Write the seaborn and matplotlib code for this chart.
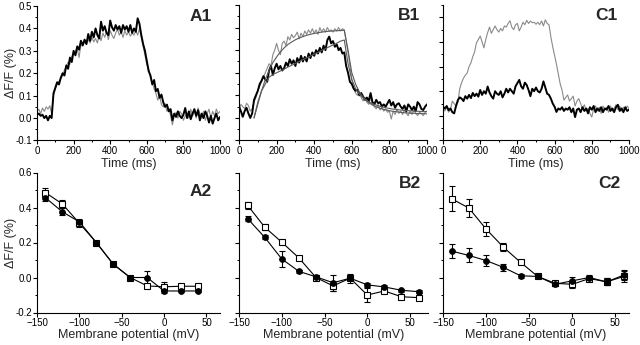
import numpy as np
import pandas as pd
import matplotlib
matplotlib.use("Agg")
import matplotlib.pyplot as plt
from matplotlib.ticker import MultipleLocator, FormatStrFormatter
import seaborn as sns

sns.set_style("ticks")
plt.rcParams["font.family"] = ["Liberation Sans", "DejaVu Sans"]

# ---------------- fluorescence traces (time in ms, dF/F in %) ----------------
time_ms = list(range(0, 1001, 10))

a1_black = [0.015, 0.020, 0.010, 0.015, 0.000, 0.010, -0.010, 0.010, 0.000, 0.110,
            0.135, 0.160, 0.150, 0.180, 0.200, 0.190, 0.235, 0.220, 0.270, 0.250,
            0.300, 0.280, 0.320, 0.305, 0.345, 0.325, 0.350, 0.330, 0.375, 0.345,
            0.385, 0.360, 0.400, 0.370, 0.355, 0.430, 0.390, 0.410, 0.380, 0.370,
            0.435, 0.405, 0.390, 0.415, 0.395, 0.410, 0.380, 0.415, 0.395, 0.410,
            0.385, 0.415, 0.380, 0.400, 0.385, 0.445, 0.420, 0.370, 0.330, 0.300,
            0.255, 0.210, 0.190, 0.150, 0.170, 0.120, 0.130, 0.090, 0.105, 0.070,
            0.050, 0.060, 0.030, 0.040, -0.010, 0.020, 0.005, 0.030, 0.010, 0.000,
            0.015, 0.045, 0.000, 0.030, -0.005, 0.020, 0.040, 0.010, 0.035, -0.010,
            0.020, 0.000, 0.030, 0.010, -0.020, 0.010, -0.025, 0.000, 0.020, -0.010,
            0.005]
a1_grey = [0.030, 0.040, 0.020, 0.045, 0.030, 0.050, 0.040, 0.055, 0.020, 0.100,
           0.130, 0.150, 0.165, 0.175, 0.190, 0.215, 0.230, 0.250, 0.240, 0.275,
           0.290, 0.300, 0.310, 0.270, 0.330, 0.320, 0.345, 0.330, 0.350, 0.335,
           0.360, 0.340, 0.355, 0.335, 0.370, 0.345, 0.380, 0.360, 0.385, 0.350,
           0.390, 0.370, 0.355, 0.380, 0.395, 0.370, 0.385, 0.360, 0.390, 0.370,
           0.385, 0.365, 0.380, 0.370, 0.390, 0.370, 0.400, 0.360, 0.320, 0.280,
           0.240, 0.220, 0.180, 0.160, 0.130, 0.110, 0.080, 0.100, 0.060, 0.050,
           0.065, 0.030, 0.045, 0.010, -0.030, 0.010, 0.025, 0.000, 0.030, 0.020,
           -0.010, 0.010, 0.020, 0.000, 0.040, 0.010, 0.030, 0.000, 0.045, 0.020,
           0.000, 0.030, -0.010, 0.020, 0.040, 0.000, 0.030, 0.010, 0.040, 0.020,
           0.030]

b1_black = [0.050, 0.030, 0.005, 0.030, 0.045, 0.020, 0.000, 0.020, 0.080, 0.100,
            0.120, 0.150, 0.165, 0.185, 0.170, 0.160, 0.210, 0.230, 0.190, 0.220,
            0.240, 0.215, 0.230, 0.210, 0.220, 0.245, 0.230, 0.260, 0.240, 0.255,
            0.230, 0.265, 0.245, 0.275, 0.250, 0.270, 0.250, 0.285, 0.265, 0.290,
            0.275, 0.300, 0.285, 0.310, 0.290, 0.320, 0.300, 0.345, 0.360, 0.330,
            0.340, 0.315, 0.325, 0.300, 0.310, 0.285, 0.290, 0.230, 0.200, 0.160,
            0.150, 0.130, 0.120, 0.125, 0.100, 0.110, 0.095, 0.080, 0.090, 0.075,
            0.110, 0.070, 0.060, 0.080, 0.065, 0.070, 0.050, 0.060, 0.050, 0.065,
            0.080, 0.055, 0.070, 0.045, 0.060, 0.065, 0.050, 0.040, 0.055, 0.030,
            0.060, 0.050, 0.035, 0.050, 0.030, 0.070, 0.060, 0.040, 0.035, 0.050,
            0.060]
b1_grey = [0.030, 0.060, 0.050, 0.040, 0.065, 0.055, 0.030, 0.040, 0.070, 0.090,
           0.120, 0.140, 0.160, 0.180, 0.200, 0.220, 0.240, 0.230, 0.280, 0.300,
           0.330, 0.300, 0.280, 0.330, 0.340, 0.320, 0.360, 0.345, 0.370, 0.355,
           0.365, 0.380, 0.350, 0.375, 0.360, 0.385, 0.370, 0.390, 0.375, 0.395,
           0.375, 0.390, 0.370, 0.400, 0.380, 0.395, 0.380, 0.400, 0.385, 0.390,
           0.380, 0.395, 0.385, 0.400, 0.385, 0.395, 0.390, 0.340, 0.290, 0.230,
           0.170, 0.130, 0.110, 0.100, 0.115, 0.090, 0.075, 0.090, 0.070, 0.060,
           0.090, 0.060, 0.050, 0.040, 0.060, 0.035, 0.045, 0.030, 0.040, 0.025,
           0.030, -0.005, 0.030, 0.015, 0.040, 0.020, 0.030, 0.015, 0.035, 0.020,
           0.010, 0.030, 0.015, 0.035, 0.020, 0.010, 0.025, 0.020, 0.010, 0.025,
           0.030]

# fitted curves drawn over the B1 traces
fit_time = list(range(80, 1001, 20))
b1_fit_grey = [0.000, 0.060, 0.120, 0.170, 0.210, 0.245, 0.270, 0.292, 0.310, 0.325,
               0.336, 0.346, 0.354, 0.360, 0.366, 0.370, 0.374, 0.377, 0.380, 0.382,
               0.384, 0.385, 0.386, 0.387, 0.388, 0.300, 0.200, 0.150, 0.115, 0.092,
               0.075, 0.062, 0.053, 0.046, 0.040, 0.036, 0.032, 0.029, 0.027, 0.025,
               0.023, 0.022, 0.021, 0.020, 0.019, 0.019, 0.018]
b1_fit_black = [0.000, 0.070, 0.120, 0.150, 0.180, 0.192, 0.200, 0.208, 0.216, 0.225,
                0.233, 0.241, 0.249, 0.258, 0.266, 0.274, 0.282, 0.290, 0.299, 0.307,
                0.315, 0.323, 0.331, 0.340, 0.345, 0.240, 0.170, 0.130, 0.105, 0.088,
                0.076, 0.067, 0.060, 0.054, 0.049, 0.045, 0.042, 0.039, 0.037, 0.035,
                0.033, 0.032, 0.031, 0.030, 0.029, 0.028, 0.028]

c1_black = [0.037, 0.030, 0.040, 0.023, 0.030, 0.015, 0.010, 0.040, 0.064, 0.075,
            0.070, 0.060, 0.080, 0.070, 0.085, 0.072, 0.093, 0.080, 0.090, 0.078,
            0.105, 0.085, 0.100, 0.090, 0.119, 0.095, 0.080, 0.070, 0.100, 0.090,
            0.085, 0.100, 0.075, 0.090, 0.110, 0.095, 0.110, 0.100, 0.090, 0.120,
            0.133, 0.146, 0.120, 0.110, 0.135, 0.125, 0.105, 0.080, 0.110, 0.100,
            0.115, 0.100, 0.095, 0.110, 0.140, 0.115, 0.090, 0.085, 0.070, 0.050,
            0.037, 0.016, 0.030, 0.025, 0.035, 0.020, 0.030, 0.025, 0.035, 0.015,
            0.030, -0.005, 0.025, 0.030, 0.015, 0.035, 0.020, 0.030, 0.010, 0.035,
            0.025, 0.040, 0.015, 0.030, 0.020, 0.035, 0.015, 0.030, 0.025, 0.040,
            0.020, 0.030, 0.015, 0.035, 0.045, 0.020, 0.030, 0.015, 0.035, 0.020,
            0.025]
c1_grey = [0.030, 0.020, 0.035, 0.015, 0.025, 0.060, 0.050, 0.040, 0.055, 0.110,
           0.135, 0.153, 0.165, 0.174, 0.200, 0.215, 0.240, 0.260, 0.297, 0.310,
           0.324, 0.300, 0.276, 0.310, 0.338, 0.360, 0.335, 0.350, 0.365, 0.350,
           0.340, 0.355, 0.345, 0.365, 0.360, 0.375, 0.386, 0.360, 0.350, 0.370,
           0.375, 0.345, 0.360, 0.380, 0.370, 0.388, 0.375, 0.385, 0.378, 0.380,
           0.372, 0.380, 0.370, 0.385, 0.365, 0.390, 0.375, 0.370, 0.320, 0.280,
           0.245, 0.210, 0.170, 0.130, 0.105, 0.064, 0.075, 0.085, 0.060, 0.070,
           0.080, 0.040, 0.060, 0.070, 0.050, 0.030, 0.045, 0.020, 0.030, 0.010,
           -0.005, 0.030, 0.040, 0.020, 0.035, 0.010, 0.040, 0.025, 0.035, 0.015,
           0.040, 0.020, 0.030, 0.045, 0.025, 0.040, 0.020, 0.035, 0.025, 0.040,
           0.030]

# ---------------- voltage dependence (mV, dF/F in %) ----------------
a2_mv = [-140, -120, -100, -80, -60, -40, -20, 0, 20, 40]
a2_open = [0.485, 0.420, 0.310, 0.200, 0.076, 0.000, -0.048, -0.053, -0.050, -0.050]
a2_open_err = [0.025, 0.025, 0.020, 0.010, 0.010, 0.008, 0.010, 0.025, 0.010, 0.010]
a2_filled = [0.456, 0.375, 0.318, 0.200, 0.076, 0.000, 0.000, -0.077, -0.077, -0.077]
a2_filled_err = [0.020, 0.020, 0.015, 0.010, 0.010, 0.008, 0.040, 0.010, 0.008, 0.008]

b2_mv = [-140, -120, -100, -80, -60, -40, -20, 0, 20, 40, 60]
b2_open = [0.413, 0.288, 0.202, 0.112, 0.000, -0.048, -0.004, -0.100, -0.077, -0.110, -0.115]
b2_open_err = [0.020, 0.015, 0.012, 0.010, 0.008, 0.030, 0.012, 0.040, 0.010, 0.010, 0.008]
b2_filled = [0.337, 0.230, 0.106, 0.035, 0.004, -0.030, -0.004, -0.042, -0.054, -0.073, -0.081]
b2_filled_err = [0.015, 0.012, 0.045, 0.008, 0.008, 0.045, 0.025, 0.010, 0.010, 0.008, 0.008]

c2_mv = [-140, -120, -100, -80, -60, -40, -20, 0, 20, 40, 60]
c2_open = [0.450, 0.397, 0.277, 0.174, 0.087, 0.006, -0.033, -0.039, -0.006, -0.025, 0.006]
c2_open_err = [0.072, 0.050, 0.040, 0.025, 0.012, 0.010, 0.015, 0.020, 0.015, 0.020, 0.030]
c2_filled = [0.151, 0.126, 0.097, 0.058, 0.010, 0.006, -0.039, -0.019, 0.000, -0.025, 0.014]
c2_filled_err = [0.040, 0.040, 0.030, 0.020, 0.010, 0.010, 0.010, 0.020, 0.015, 0.020, 0.030]

GREY = "#8a8a8a"
FIT = "#5a5a5a"
W, H = 640.0, 345.0

fig = plt.figure(figsize=(6.4, 3.45), dpi=100)


def add_ax(left, right, top, bottom):
    return fig.add_axes([left / W, 1 - bottom / H, (right - left) / W, (bottom - top) / H])


def style(ax):
    sns.despine(ax=ax)
    for s in ("left", "bottom"):
        ax.spines[s].set_linewidth(0.8)
        ax.spines[s].set_color("black")
    ax.tick_params(which="major", direction="out", length=2.6, width=0.8,
                   labelsize=7, pad=1.2, colors="black")
    ax.tick_params(which="minor", direction="out", length=1.6, width=0.7, colors="black")


def panel_label(ax, text, x, y):
    ax.text(x, y, text, transform=ax.transAxes, ha="right", va="top",
            fontsize=12.5, fontweight="bold")


# top row: time courses
top_axes = [add_ax(37, 220, 6, 140.5), add_ax(239, 427, 5, 140.5), add_ax(443, 629, 5, 140.5)]
traces = [(a1_black, a1_grey), (b1_black, b1_grey), (c1_black, c1_grey)]
for ax, (blk, gry) in zip(top_axes, traces):
    df = pd.DataFrame({"t": time_ms, "black": blk, "grey": gry})
    sns.lineplot(data=df, x="t", y="grey", ax=ax, color=GREY, linewidth=0.8)
    sns.lineplot(data=df, x="t", y="black", ax=ax, color="black", linewidth=1.4)
    ax.set_xlim(0, 1000)
    ax.xaxis.set_major_locator(MultipleLocator(200))
    ax.xaxis.set_minor_locator(MultipleLocator(100))
    ax.yaxis.set_major_locator(MultipleLocator(0.1))
    ax.yaxis.set_minor_locator(MultipleLocator(0.05))
    ax.set_xlabel("Time (ms)", fontsize=9, labelpad=1.5)
    ax.set_ylabel("")
    style(ax)

fdf = pd.DataFrame({"t": fit_time, "fg": b1_fit_grey, "fb": b1_fit_black})
sns.lineplot(data=fdf, x="t", y="fg", ax=top_axes[1], color=FIT, linewidth=0.8)
sns.lineplot(data=fdf, x="t", y="fb", ax=top_axes[1], color=FIT, linewidth=0.8)
top_axes[1].set_ylabel("")

top_axes[0].set_ylim(-0.1, 0.5)
top_axes[1].set_ylim(-0.1, 0.5)
top_axes[2].set_ylim(-0.1, 0.45)
top_axes[0].yaxis.set_major_formatter(FormatStrFormatter("%.1f"))
top_axes[0].set_ylabel("\u0394F/F (%)", fontsize=9)
top_axes[0].yaxis.set_label_coords(-0.112, 0.5)
top_axes[1].tick_params(axis="y", labelleft=False)
top_axes[2].tick_params(axis="y", labelleft=False)

panel_label(top_axes[0], "A1", 0.956, 0.975)
panel_label(top_axes[1], "B1", 0.963, 0.975)
panel_label(top_axes[2], "C1", 0.94, 0.975)

# bottom row: voltage dependence
bot_axes = [add_ax(37, 220, 172.5, 312.5), add_ax(239, 428, 172.5, 312.5), add_ax(443, 629, 172.5, 312.5)]
xmax = [66, 71, 66]
series = [
    (a2_mv, a2_open, a2_open_err, a2_filled, a2_filled_err),
    (b2_mv, b2_open, b2_open_err, b2_filled, b2_filled_err),
    (c2_mv, c2_open, c2_open_err, c2_filled, c2_filled_err),
]
for ax, xm, (mv, op, ope, fl, fle) in zip(bot_axes, xmax, series):
    ax.errorbar(mv, op, yerr=ope, fmt="none", ecolor="black", elinewidth=0.8,
                capsize=2.5, capthick=0.8, zorder=1)
    ax.errorbar(mv, fl, yerr=fle, fmt="none", ecolor="black", elinewidth=0.8,
                capsize=2.5, capthick=0.8, zorder=1)
    sns.lineplot(x=mv, y=op, ax=ax, color="black", linewidth=0.8, marker="s",
                 markersize=4.2, markerfacecolor="white", markeredgecolor="black",
                 markeredgewidth=0.8, zorder=3)
    sns.lineplot(x=mv, y=fl, ax=ax, color="black", linewidth=0.8, marker="o",
                 markersize=4.2, markerfacecolor="black", markeredgecolor="black",
                 markeredgewidth=0.6, zorder=4)
    ax.set_xlim(-150, xm)
    ax.set_ylim(-0.2, 0.6)
    ax.xaxis.set_major_locator(MultipleLocator(50))
    ax.yaxis.set_major_locator(MultipleLocator(0.2))
    ax.yaxis.set_minor_locator(MultipleLocator(0.1))
    ax.set_xlabel("Membrane potential (mV)", fontsize=9, labelpad=1)
    style(ax)

bot_axes[0].yaxis.set_major_formatter(FormatStrFormatter("%.1f"))
bot_axes[0].set_ylabel("\u0394F/F (%)", fontsize=9)
bot_axes[0].yaxis.set_label_coords(-0.112, 0.5)
bot_axes[1].tick_params(axis="y", labelleft=False)
bot_axes[2].tick_params(axis="y", labelleft=False)

panel_label(bot_axes[0], "A2", 0.956, 0.92)
panel_label(bot_axes[1], "B2", 0.963, 0.975)
panel_label(bot_axes[2], "C2", 0.955, 0.975)

fig.savefig("out.png", dpi=100)
